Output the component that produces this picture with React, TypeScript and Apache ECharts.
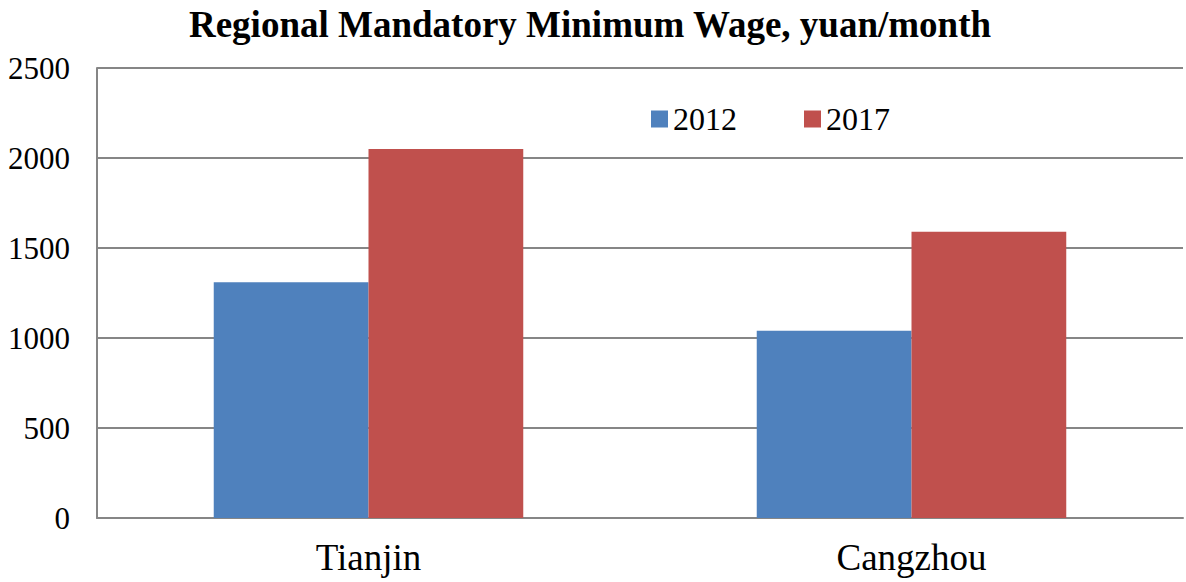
import React, { useEffect, useRef } from "react";
import * as echarts from "echarts";

const categories = ["Tianjin", "Cangzhou"];
const seriesNames = ["2012", "2017"];
const values2012 = [1310, 1040];
const values2017 = [2050, 1590];
const colors = ["#4F81BD", "#C0504D"];

const FONT = "'Liberation Serif', 'Times New Roman', serif";

export default function App() {
  const ref = useRef<HTMLDivElement>(null);
  useEffect(() => {
    if (!ref.current) return;
    const chart = echarts.init(ref.current, undefined, { renderer: "svg" });
    chart.setOption({
      animation: false,
      backgroundColor: "#ffffff",
      title: {
        text: "Regional Mandatory Minimum Wage, yuan/month",
        left: 585,
        textAlign: "center",
        top: 1,
        textStyle: { fontFamily: FONT, fontWeight: "bold", fontSize: 37, color: "#000" },
      },
      legend: {
        left: 646,
        top: 98,
        itemWidth: 17,
        itemHeight: 17,
        itemGap: 67,
        icon: "rect",
        data: seriesNames,
        textStyle: { fontFamily: FONT, fontSize: 32, color: "#000" },
      },
      grid: { left: 97, right: 3, top: 68, bottom: 64, containLabel: false },
      xAxis: {
        type: "category",
        data: categories,
        axisLine: { lineStyle: { color: "#868686", width: 2 } },
        axisTick: { show: false },
        axisLabel: { fontFamily: FONT, fontSize: 37, color: "#000", margin: 21 },
      },
      yAxis: {
        type: "value",
        min: 0,
        max: 2500,
        interval: 500,
        axisLine: { show: true, lineStyle: { color: "#868686", width: 2 } },
        axisTick: { show: false },
        splitLine: { lineStyle: { color: "#868686", width: 2 } },
        axisLabel: {
          fontFamily: FONT,
          fontSize: 31,
          color: "#000",
          margin: 27,
          formatter: (v: number) => String(v),
        },
      },
      series: [
        {
          name: seriesNames[0],
          type: "bar",
          data: values2012,
          itemStyle: { color: colors[0] },
          barGap: "0%",
          barCategoryGap: "43%",
        },
        {
          name: seriesNames[1],
          type: "bar",
          data: values2017,
          itemStyle: { color: colors[1] },
          barGap: "0%",
          barCategoryGap: "43%",
        },
      ],
    });
    return () => chart.dispose();
  }, []);
  return (
    <div
      ref={ref}
      style={{ position: "fixed", left: 0, top: 0, width: 1186, height: 582, background: "#fff" }}
    />
  );
}
